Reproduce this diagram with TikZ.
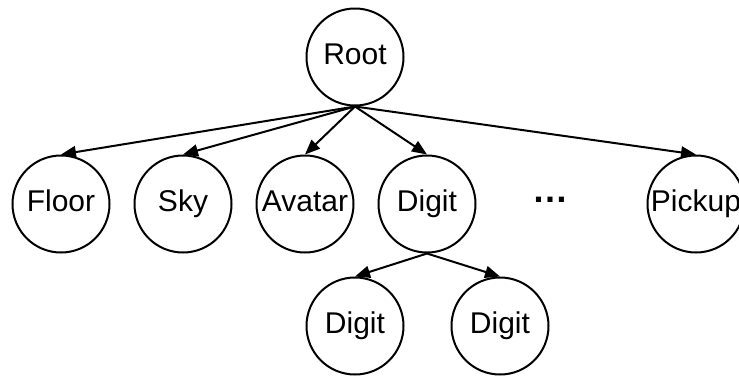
\documentclass[tikz,border=0pt]{standalone}
\usepackage{fontspec}
\setmainfont{Liberation Sans}
\usetikzlibrary{arrows.meta}
\tikzset{
  treenode/.style={draw, circle, line width=2pt, minimum size=97pt, inner sep=0pt,
    font=\fontsize{30}{36}\selectfont, text height=21.6pt, text depth=6pt},
  edge/.style={line width=2pt, -{Triangle[length=15pt, width=12pt]}}
}
\begin{document}
\begin{tikzpicture}[x=1pt, y=-1pt]
  \useasboundingbox (0,0) rectangle (739,376);
  % tree nodes
  \node[treenode] (root)   at (355,57)  {Root};
  \node[treenode] (floor)  at (61,204)  {Floor};
  \node[treenode] (sky)    at (183,204) {Sky};
  \node[treenode] (avatar) at (305,204) {Avatar};
  \node[treenode] (digit)  at (427,204) {Digit};
  \node[treenode] (pickup) at (696,204) {Pickup};
  \node[treenode] (digitl) at (355,326) {Digit};
  \node[treenode] (digitr) at (500,326) {Digit};
  % ellipsis for the omitted children
  \node (more) at (550,200) {\fontsize{36}{40}\selectfont\bfseries …};
  % edges
  \foreach \c in {floor, sky, avatar, digit, pickup}
    \draw[edge] (root.south) -- (\c.north);
  \draw[edge] (digit.south) -- (digitl.north);
  \draw[edge] (digit.south) -- (digitr.north);
\end{tikzpicture}
\end{document}
